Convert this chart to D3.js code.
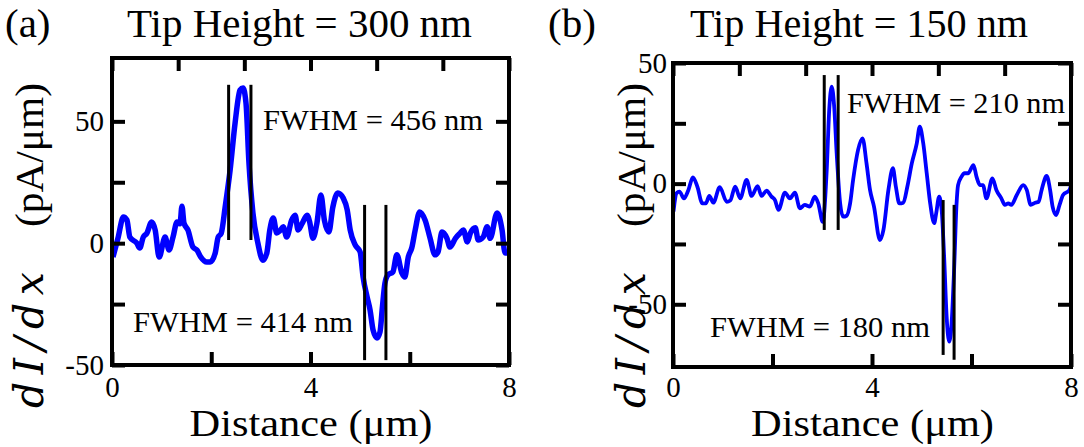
<!DOCTYPE html>
<html>
<head>
<meta charset="utf-8">
<script src="https://cdn.jsdelivr.net/npm/d3@7"></script>
<style>
  body { margin: 0; background: #fff; }
  text { font-family: "Liberation Serif", "Times New Roman", serif; fill: #000; }
</style>
</head>
<body>
<div id="chart-area"></div>
<script>

// SVG Size
var width = 1084,
	height = 447;

// Panel (a): tip height 300 nm
var distA = [0.02,0.12,0.23,0.30,0.36,0.50,0.56,0.63,0.70,0.80,0.87,0.95,1.07,1.15,1.23,1.31,1.37,1.41,1.45,1.53,
	1.63,1.71,1.79,1.91,1.98,2.08,2.14,2.20,2.28,2.38,2.48,2.58,2.64,2.70,2.76,2.84,2.94,3.04,3.12,3.18,
	3.25,3.32,3.38,3.45,3.52,3.62,3.69,3.75,3.83,3.93,3.98,4.05,4.13,4.21,4.28,4.37,4.45,4.55,4.66,4.74,
	4.80,4.90,5.00,5.06,5.14,5.20,5.26,5.34,5.40,5.45,5.50,5.56,5.66,5.74,5.84,5.90,5.97,6.04,6.11,6.20,
	6.31,6.41,6.51,6.57,6.65,6.75,6.81,6.92,7.02,7.08,7.16,7.22,7.32,7.38,7.48,7.56,7.62,7.76,7.86,7.92,7.97];
var currA = [-5.7,2,10.7,9.5,2.5,0,-2,2.5,4,8.7,5.4,-5.7,2.5,-2.8,2.5,8.7,8,15.2,8.3,5.4,
	-1.6,-2.8,-5.7,-7.7,-7.7,-4,2.5,4,14.8,30,49.3,62.8,63.7,57.5,32.9,12.4,0,-7,-4,5.4,
	10.3,4.2,5,6.7,2.5,9.5,11.5,5.4,8,11.5,9,2,8.3,19.8,9.4,4.6,14.8,20.6,18.5,13.6,
	5.4,-0.7,-3.6,-13.9,-22,-27.4,-35.6,-38.9,-36.5,-26,-16.4,-13,-11.8,-4.8,-12.2,-13.9,-5.7,-2,5.4,12.8,
	9.4,2,-4.8,-3.6,4.6,2,-1.6,2,4.2,5.4,0.5,4,6.3,1.3,2.5,6.7,2,12.4,5.4,-4,-4];

// Panel (b): tip height 150 nm
var distB = [0.01,0.07,0.13,0.22,0.31,0.40,0.49,0.59,0.66,0.73,0.81,0.94,1.08,1.15,1.25,1.35,1.48,1.58,1.70,1.78,
	1.88,1.98,2.05,2.12,2.25,2.35,2.45,2.55,2.65,2.75,2.85,2.92,3.01,3.09,3.14,3.19,3.24,3.29,3.36,3.42,
	3.49,3.56,3.62,3.72,3.81,3.89,3.96,4.04,4.16,4.23,4.33,4.42,4.48,4.55,4.63,4.71,4.80,4.90,4.96,5.03,
	5.10,5.17,5.25,5.29,5.35,5.40,5.45,5.50,5.55,5.60,5.65,5.70,5.73,5.80,5.86,5.93,6.04,6.10,6.17,6.23,
	6.30,6.42,6.50,6.60,6.67,6.74,6.80,6.91,7.04,7.11,7.19,7.28,7.35,7.41,7.51,7.58,7.63,7.70,7.77,7.84,7.97,8.0];
var currB = [-11.6,-4,-3.3,-6.1,-2.6,2.6,-1.3,-8.2,-8.2,-5.1,-7.9,-1.5,-7.5,-7,-1.3,-6.1,1.5,-5.1,-1,-5.1,
	-2.9,-5.4,-6.8,-10.9,-3.7,-6.1,-3.7,-10.2,-8.8,-9.5,-5.4,-8.2,-15.8,5.7,30.5,40.2,31.9,12.6,-8.2,-13.7,
	-13.3,-8.2,1.5,14,18.8,8.4,-2.6,-9.5,-23.4,-19.2,-2.6,6.4,-1.3,-8.2,-7.9,-1.3,8.4,16.7,23.6,16.7,
	4.3,-8.2,-16.4,-12.3,-5.4,-10.9,-30.3,-55.1,-65.5,-57.9,-35.8,-8.2,-0.6,2.9,4.3,4.3,7.7,2.9,-0.6,-0.6,
	-6.1,2.2,-2.6,-6.1,-8.8,-8.2,-8.8,-4.7,-0.6,-2.6,-8.8,-7.9,-7.5,-2.6,3.2,-2.6,-9.5,-13,-8.8,-4.7,-2.6,-0.6];

// FWHM marker lines: x position, top and bottom value
var fwhmA = [[2.35, 65, 1.3], [2.80, 65, 1.3], [5.09, 15.7, -48], [5.52, 15.7, -48]];
var fwhmB = [[3.04, 45, -19.2], [3.32, 45, -19.2], [5.43, -6.8, -71], [5.65, -8.8, -73]];

var fwhmLabelsA = ["FWHM = 456 nm", "FWHM = 414 nm"];
var fwhmLabelsB = ["FWHM = 210 nm", "FWHM = 180 nm"];

var xTicks = [0, 2, 4, 6, 8];
var xTopTicks = [0, 4/3, 8/3, 4, 16/3, 20/3, 8];
var xTickLabels = [0, 4, 8];
var yTicks = [-50, -25, 0, 25, 50];
var yTickLabels = [-50, 0, 50];

var titles = ["Tip Height = 300 nm", "Tip Height = 150 nm"];
var panelLetters = ["(a)", "(b)"];


var svg = d3.select("#chart-area")
	.append("svg")
	.attr("width", width)
	.attr("height", height);


var drawPanel = function(opt) {

	var xScale = d3.scaleLinear().domain([0, 8]).range([opt.left, opt.right]);
	var yScale = d3.scaleLinear().domain(opt.yDomain).range([opt.bottom, opt.top]);

	var g = svg.append("g");

	// curve
	var line = d3.line()
		.x(function (d) {return xScale(d[0])})
		.y(function (d) {return yScale(d[1])})
		.curve(d3.curveMonotoneX);

	var pts = opt.xs.map(function (x, i) {return [x, opt.ys[i]]});

	g.append("path")
		.datum(pts)
		.attr("d", line)
		.attr("fill", "none")
		.attr("stroke", "#0000ff")
		.attr("stroke-width", opt.lineWidth)
		.attr("stroke-linejoin", "round");

	// FWHM markers
	g.selectAll(".fwhm").data(opt.fwhm).enter()
		.append("line")
		.attr("class", "fwhm")
		.attr("x1", function (d) {return xScale(d[0])})
		.attr("x2", function (d) {return xScale(d[0])})
		.attr("y1", function (d) {return yScale(d[1])})
		.attr("y2", function (d) {return yScale(d[2])})
		.style("stroke", "#000")
		.style("stroke-width", "3px");

	// inward ticks on all four sides
	var tick = 13;
	var bottomAxis = d3.axisBottom(xScale).tickValues(xTicks)
		.tickSizeInner(-tick).tickSizeOuter(0).tickPadding(opt.xPad)
		.tickFormat(function (d) {return xTickLabels.includes(d) ? d : ""});
	var topAxis = d3.axisTop(xScale).tickValues(xTopTicks)
		.tickSizeInner(-tick).tickSizeOuter(0).tickFormat("");
	var leftAxis = d3.axisLeft(yScale).tickValues(yTicks)
		.tickSizeInner(-tick).tickSizeOuter(0).tickPadding(opt.yPad)
		.tickFormat(function (d) {return yTickLabels.includes(d) ? d : ""});
	var rightAxis = d3.axisRight(yScale).tickValues(yTicks)
		.tickSizeInner(-tick).tickSizeOuter(0).tickFormat("");

	var axes = [
		[bottomAxis, "translate(0," + opt.bottom + ")"],
		[topAxis, "translate(0," + opt.top + ")"],
		[leftAxis, "translate(" + opt.left + ",0)"],
		[rightAxis, "translate(" + opt.right + ",0)"]
	];
	axes.forEach(function (a) {
		var ax = g.append("g").attr("transform", a[1]).call(a[0]);
		ax.select(".domain").remove();
		ax.selectAll("line").style("stroke", "#000").style("stroke-width", "4px");
		ax.selectAll("text")
			.style("font-family", "'Liberation Serif', serif")
			.style("font-size", "29px")
			.attr("fill", "#000");
	});

	// frame
	g.append("rect")
		.attr("x", opt.left).attr("y", opt.top)
		.attr("width", opt.right - opt.left)
		.attr("height", opt.bottom - opt.top)
		.style("fill", "none")
		.style("stroke", "#000")
		.style("stroke-width", "4px");

	// FWHM labels
	opt.labels.forEach(function (l, i) {
		g.append("text")
			.attr("x", opt.labelPos[i][0]).attr("y", opt.labelPos[i][1])
			.attr("textLength", opt.labelPos[i][2]).attr("lengthAdjust", "spacingAndGlyphs")
			.style("font-size", "30px")
			.text(l);
	});

	// x label
	g.append("text")
		.attr("x", (opt.left + opt.right) / 2 - 121).attr("y", 436)
		.attr("textLength", 243).attr("lengthAdjust", "spacingAndGlyphs")
		.style("font-size", "38px")
		.text("Distance (μm)");

	// y label: italic dI/dx + (pA/μm)
	var yl = g.append("g").attr("transform", "translate(" + opt.yLabelX + ",0) rotate(-90)");
	yl.append("text")
		.attr("x", -408).attr("y", 0)
		.attr("textLength", 136).attr("lengthAdjust", "spacing")
		.style("font-family", "'DejaVu Serif', serif")
		.style("font-size", "41px").style("font-style", "italic")
		.text("dI/dx");
	yl.append("text")
		.attr("x", -227).attr("y", 0)
		.attr("textLength", 144).attr("lengthAdjust", "spacingAndGlyphs")
		.style("font-size", "40px")
		.text("(pA/μm)");

	// title
	g.append("text")
		.attr("x", opt.letterX).attr("y", 37)
		.style("font-size", "41px")
		.text(opt.letter);
	g.append("text")
		.attr("x", opt.titleX).attr("y", 37)
		.attr("textLength", opt.titleW).attr("lengthAdjust", "spacingAndGlyphs")
		.style("font-size", "40px")
		.text(opt.title);
};


drawPanel({
	left: 112, right: 509, top: 58, bottom: 365,
	yDomain: [-50, 76],
	xs: distA, ys: currA, lineWidth: 5.5,
	fwhm: fwhmA,
	labels: fwhmLabelsA,
	labelPos: [[263, 130, 220], [133, 332, 220]],
	xPad: 11, yPad: 8, yLabelX: 43,
	letter: panelLetters[0], letterX: 5,
	title: titles[0], titleX: 127, titleW: 345
});

drawPanel({
	left: 673, right: 1071, top: 63, bottom: 367,
	yDomain: [-76, 50],
	xs: distB, ys: currB, lineWidth: 3.8,
	fwhm: fwhmB,
	labels: fwhmLabelsB,
	labelPos: [[847, 113, 218], [710, 337, 220]],
	xPad: 9, yPad: 6, yLabelX: 645,
	letter: panelLetters[1], letterX: 548,
	title: titles[1], titleX: 690, titleW: 338
});

</script>
</body>
</html>
